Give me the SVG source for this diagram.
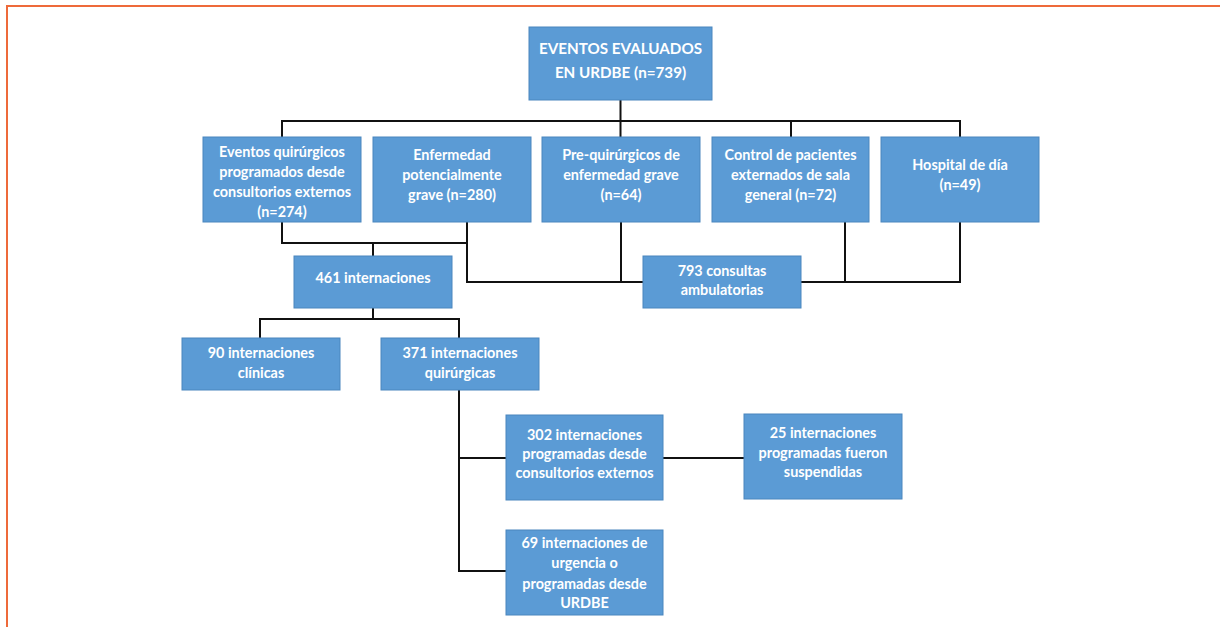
<svg xmlns="http://www.w3.org/2000/svg" width="1220" height="627" viewBox="0 0 1220 627">
<style>
.box{fill:#5B9BD5;stroke:#4A86BE;stroke-width:1}
.t{font-family:Lato,"Liberation Sans",sans-serif;font-weight:bold;font-size:14.4px;fill:#fff;text-anchor:middle}
.h{font-size:15.2px}
.c{fill:none;stroke:#111;stroke-width:2}
</style>
<rect width="1220" height="627" fill="#fff"/>
<path d="M7,627 V6 H1220" fill="none" stroke="#EE6A3A" stroke-width="2"/>
<g id="connectors" class="c">
<path d="M620.5,100 V137"/>
<path d="M282,137 V121 H960 V137"/>
<path d="M791,121 V137"/>
<path d="M282,222 V243 H467"/>
<path d="M373,243 V256"/>
<path d="M467,222 V282 H960 V222"/>
<path d="M621,222 V282"/>
<path d="M845,222 V282"/>
<path d="M373,308 V319"/>
<path d="M260,338 V319 H459 V338"/>
<path d="M459,390 V571 H506"/>
<path d="M459,458 H506"/>
<path d="M663,458 H744"/>
</g>
<g id="n_top"><rect class="box" x="529" y="27" width="183" height="73"/><text class="t h" x="620.5" y="54">EVENTOS EVALUADOS</text><text class="t h" x="620.5" y="78">EN URDBE (n=739)</text></g>
<g id="n_quir"><rect class="box" x="203" y="137" width="158" height="85"/><text class="t" x="282" y="157">Eventos quirúrgicos</text><text class="t" x="282" y="177">programados desde</text><text class="t" x="282" y="197">consultorios externos</text><text class="t" x="282" y="217">(n=274)</text></g>
<g id="n_enf"><rect class="box" x="373" y="137" width="158" height="85"/><text class="t" x="452" y="160">Enfermedad</text><text class="t" x="452" y="180">potencialmente</text><text class="t" x="452" y="200">grave (n=280)</text></g>
<g id="n_pre"><rect class="box" x="542" y="137" width="158" height="85"/><text class="t" x="621" y="160">Pre-quirúrgicos de</text><text class="t" x="621" y="180">enfermedad grave</text><text class="t" x="621" y="200">(n=64)</text></g>
<g id="n_ctrl"><rect class="box" x="712" y="137" width="157" height="85"/><text class="t" x="790.5" y="160">Control de pacientes</text><text class="t" x="790.5" y="180">externados de sala</text><text class="t" x="790.5" y="200">general (n=72)</text></g>
<g id="n_hosp"><rect class="box" x="881" y="137" width="158" height="85"/><text class="t" x="960" y="170">Hospital de día</text><text class="t" x="960" y="190">(n=49)</text></g>
<g id="n_461"><rect class="box" x="294" y="256" width="158" height="52"/><text class="t" x="373" y="283">461 internaciones</text></g>
<g id="n_793"><rect class="box" x="643" y="256" width="158" height="52"/><text class="t" x="722" y="276">793 consultas</text><text class="t" x="722" y="295">ambulatorias</text></g>
<g id="n_90"><rect class="box" x="182" y="338" width="158" height="52"/><text class="t" x="261" y="358">90 internaciones</text><text class="t" x="261" y="378">clínicas</text></g>
<g id="n_371"><rect class="box" x="381" y="338" width="158" height="52"/><text class="t" x="460" y="358">371 internaciones</text><text class="t" x="460" y="378">quirúrgicas</text></g>
<g id="n_302"><rect class="box" x="506" y="415" width="157" height="85"/><text class="t" x="584.5" y="440">302 internaciones</text><text class="t" x="584.5" y="459">programadas desde</text><text class="t" x="584.5" y="478">consultorios externos</text></g>
<g id="n_25"><rect class="box" x="744" y="414" width="158" height="85"/><text class="t" x="823" y="438">25 internaciones</text><text class="t" x="823" y="458">programadas fueron</text><text class="t" x="823" y="477">suspendidas</text></g>
<g id="n_69"><rect class="box" x="506" y="530" width="157" height="85"/><text class="t" x="584.5" y="548">69 internaciones de</text><text class="t" x="584.5" y="568">urgencia o</text><text class="t" x="584.5" y="589">programadas desde</text><text class="t" x="584.5" y="608">URDBE</text></g>
</svg>
